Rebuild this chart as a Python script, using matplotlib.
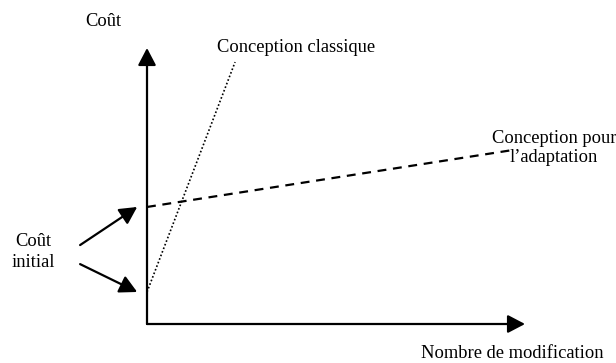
import matplotlib.pyplot as plt

plt.rcParams['font.family'] = ['Liberation Serif', 'DejaVu Serif']

# schematic data: cost vs number of modifications (arbitrary units)
classic_x = [0.0, 2.33]
classic_y = [1.16, 9.49]
adapt_x = [0.0, 9.66]
adapt_y = [4.24, 6.30]
axis_x_end = 10.0
axis_y_end = 10.0

# initial costs pointed at by the "Coût initial" arrows
initial_costs = [adapt_y[0], classic_y[0]]
initial_tails_y = [2.86, 2.17]

fig = plt.figure(figsize=(6.16, 3.63), dpi=100)
ax = fig.add_axes([0, 0, 1, 1])
ax.set_xlim(-3.889, 12.407)
ax.set_ylim(-1.413, 11.739)
ax.axis('off')

head = '-|>,head_length=10.5,head_width=5.5'

# axes with arrow heads
ax.annotate('', xy=(axis_x_end, 0), xytext=(0, 0),
            arrowprops=dict(arrowstyle=head, mutation_scale=1, lw=1.6,
                            color='black', shrinkA=0, shrinkB=0))
ax.annotate('', xy=(0, axis_y_end), xytext=(0, 0),
            arrowprops=dict(arrowstyle=head, mutation_scale=1, lw=1.6,
                            color='black', shrinkA=0, shrinkB=0))

# the two cost curves
ax.plot(classic_x, classic_y, color='black', lw=1.2, linestyle=(0, (1, 1.3)))
ax.plot(adapt_x, adapt_y, color='black', lw=1.6, linestyle=(0, (4, 3)))

# initial cost arrows
for yc, yt in zip(initial_costs, initial_tails_y):
    ax.annotate('', xy=(-0.26, yc), xytext=(-1.77, yt),
                arrowprops=dict(arrowstyle=head, mutation_scale=1, lw=1.6,
                                color='black', shrinkA=0, shrinkB=0))

fs = 13.3
ax.text(-1.16, 10.95, 'Coût', fontsize=fs, ha='center', va='center')
ax.text(1.85, 10.0, 'Conception classique', fontsize=fs, ha='left', va='center')
ax.text(10.77, 6.38, 'Conception pour\nl\u2019adaptation', fontsize=fs, ha='center',
        va='center', linespacing=1.2)
ax.text(-3.0, 2.62, 'Coût\ninitial', fontsize=fs, ha='center', va='center',
        linespacing=1.3)
ax.text(9.66, -1.07, 'Nombre de modification', fontsize=fs, ha='center', va='center')

fig.savefig('out.png', dpi=100)
